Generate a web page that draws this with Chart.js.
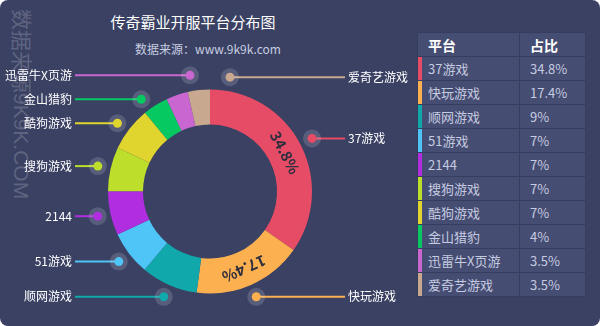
<!DOCTYPE html>
<html>
<head>
<meta charset="utf-8">
<title>传奇霸业开服平台分布图</title>
<script src="https://cdn.jsdelivr.net/npm/chart.js@4.4.0/dist/chart.umd.min.js"></script>
<style>
  body { margin: 0; background: #fff; }
  #panel {
    position: relative; width: 600px; height: 326px; overflow: hidden;
    background: #3a4163; border-radius: 8px;
    font-family: "Noto Sans CJK SC", "Liberation Sans", sans-serif;
  }
  #chart-box { position: absolute; left: 0; top: 0; width: 600px; height: 326px; }
  #watermark {
    position: absolute; left: 9px; top: 9px;
    writing-mode: vertical-rl; text-orientation: sideways;
    font-size: 21px; line-height: 24px; color: rgba(255, 255, 255, 0.2);
    font-family: "Liberation Sans", "Noto Sans CJK SC", sans-serif;
  }
  #title {
    position: absolute; left: 0; width: 386px; top: 12px;
    text-align: center; color: #fff; font-size: 15px; line-height: 20px;
  }
  #subtitle {
    position: absolute; left: 0; width: 416px; top: 41px;
    text-align: center; color: #c8cde0; font-size: 12px; line-height: 16px;
  }
  #share-table {
    position: absolute; left: 417px; top: 32px;
    border-collapse: separate; border-spacing: 1px; background: #363d5e;
  }
  #share-table th, #share-table td {
    background: #464d72; height: 23px; padding: 0 0 0 10px;
    text-align: left; white-space: nowrap;
  }
  #share-table th { color: #fff; font-size: 14px; font-weight: bold; }
  #share-table td { color: #c5cbe0; font-size: 13px; }
  #share-table .c1 { width: 91px; }
  #share-table .c2 { width: 55px; }
  #share-table td.c1 { padding-left: 6px; width: 91px; }
</style>
</head>
<body>
<div id="panel">
  <div id="watermark">数据来源9K9K.COM</div>
  <div id="title">传奇霸业开服平台分布图</div>
  <div id="subtitle">数据来源：www.9k9k.com</div>
  <div id="chart-box"><canvas id="chart"></canvas></div>
  <table id="share-table">
    <thead><tr><th class="c1">平台</th><th class="c2">占比</th></tr></thead>
    <tbody id="share-body"></tbody>
  </table>
</div>
<script>
// --- Data ---
const platforms = ["37游戏", "快玩游戏", "顺网游戏", "51游戏", "2144", "搜狗游戏", "酷狗游戏", "金山猎豹", "迅雷牛X页游", "爱奇艺游戏"];
const shares = [34.8, 17.4, 9, 7, 7, 7, 7, 4, 3.5, 3.5];
const sliceColors = ["#e64c65", "#fcb04f", "#11a8ab", "#4fc4f6", "#b02de0", "#bddf2b", "#e0d42e", "#06c962", "#c966cf", "#c8a98f"];

// --- Table ---
const tbody = document.getElementById("share-body");
platforms.forEach((name, i) => {
  const tr = document.createElement("tr");
  const td1 = document.createElement("td");
  td1.className = "c1";
  td1.style.borderLeft = `4px solid ${sliceColors[i]}`;
  td1.textContent = name;
  const td2 = document.createElement("td");
  td2.className = "c2";
  td2.textContent = `${shares[i]}%`;
  tr.appendChild(td1);
  tr.appendChild(td2);
  tbody.appendChild(tr);
});

// --- Callout labels + percent text inside the ring ---
const calloutPlugin = {
  id: "callouts",
  afterDatasetsDraw(chart) {
    const ctx = chart.ctx;
    const arcs = chart.getDatasetMeta(0).data;
    const left = [];
    const right = [];

    arcs.forEach((arc, i) => {
      const p = arc.getProps(["x", "y", "startAngle", "endAngle", "innerRadius", "outerRadius"], true);
      const mid = (p.startAngle + p.endAngle) / 2;
      const r = p.outerRadius + 13;
      const item = { i, cx: p.x, cy: p.y, r, y: p.y + Math.sin(mid) * r };
      (Math.cos(mid) > -0.15 ? right : left).push(item);

      // big slices get their value written along the ring
      if (shares[i] >= 10) {
        const rm = (p.innerRadius + p.outerRadius) / 2;
        ctx.save();
        ctx.translate(p.x + Math.cos(mid) * rm, p.y + Math.sin(mid) * rm);
        ctx.rotate(mid + Math.PI / 2);
        ctx.font = 'bold 15px "Noto Sans CJK SC", "Liberation Sans", sans-serif';
        ctx.fillStyle = "#2e2f3e";
        ctx.textAlign = "center";
        ctx.textBaseline = "middle";
        ctx.fillText(`${shares[i]}%`, 0, 0);
        ctx.restore();
      }
    });

    // push overlapping labels apart
    [left, right].forEach((side) => {
      side.sort((a, b) => a.y - b.y);
      for (let k = 0; k < 60; k++) {
        for (let j = 1; j < side.length; j++) {
          const gap = side[j].y - side[j - 1].y;
          if (gap < 24) {
            const d = (24 - gap) / 2;
            side[j - 1].y -= d;
            side[j].y += d;
          }
        }
      }
    });

    ctx.save();
    ctx.font = '12px "Noto Sans CJK SC", "Liberation Sans", sans-serif';
    ctx.textBaseline = "middle";
    [[left, -1], [right, 1]].forEach(([side, dir]) => {
      side.forEach((it) => {
        const dy = it.y - it.cy;
        const dx = Math.max(20, Math.sqrt(Math.max(0, it.r * it.r - dy * dy)));
        const x = it.cx + dir * dx;
        const color = sliceColors[it.i];
        const lineEnd = dir < 0 ? 75 : 345;

        ctx.strokeStyle = color;
        ctx.lineWidth = 2;
        ctx.beginPath();
        ctx.moveTo(x, it.y);
        ctx.lineTo(lineEnd, it.y);
        ctx.stroke();

        ctx.fillStyle = "rgba(255, 255, 255, 0.15)";
        ctx.beginPath();
        ctx.arc(x, it.y, 9, 0, Math.PI * 2);
        ctx.fill();
        ctx.fillStyle = color;
        ctx.beginPath();
        ctx.arc(x, it.y, 4.5, 0, Math.PI * 2);
        ctx.fill();

        ctx.fillStyle = "#fff";
        ctx.textAlign = dir < 0 ? "right" : "left";
        ctx.fillText(platforms[it.i], dir < 0 ? 72 : 348, it.y);
      });
    });
    ctx.restore();
  },
};

new Chart(document.getElementById("chart"), {
  type: "doughnut",
  data: {
    labels: platforms,
    datasets: [
      {
        data: shares,
        backgroundColor: sliceColors,
        borderWidth: 0,
      },
    ],
  },
  options: {
    responsive: true,
    maintainAspectRatio: false,
    animation: false,
    cutout: "65.7%",
    layout: { padding: { left: 108, right: 288, top: 89.5, bottom: 32.5 } },
    plugins: {
      legend: { display: false },
      tooltip: { enabled: false },
    },
  },
  plugins: [calloutPlugin],
});
</script>
</body>
</html>
